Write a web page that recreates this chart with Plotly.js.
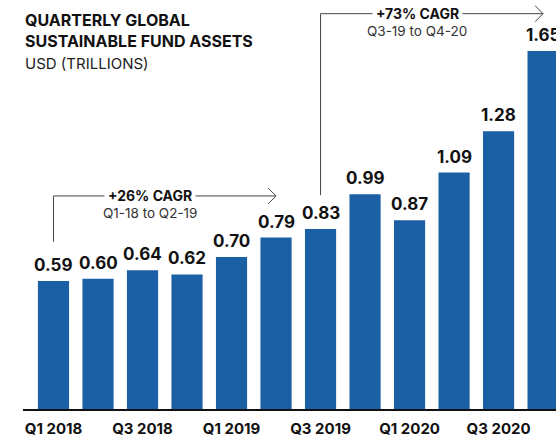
<!DOCTYPE html>
<html>
<head>
<meta charset="utf-8">
<script src="https://cdn.plot.ly/plotly-3.0.1.min.js"></script>
<style>
  html, body { margin: 0; padding: 0; background: #fff; }
  #chart { width: 556px; height: 439px; }
</style>
</head>
<body>
<div id="chart"></div>
<script>
// ---- data ----
const quarters = ["Q1 2018","Q2 2018","Q3 2018","Q4 2018","Q1 2019","Q2 2019",
                  "Q3 2019","Q4 2019","Q1 2020","Q2 2020","Q3 2020","Q4 2020"];
const assets = [0.59, 0.60, 0.64, 0.62, 0.70, 0.79, 0.83, 0.99, 0.87, 1.09, 1.28, 1.65];
const tickLabels = ["Q1 2018","Q3 2018","Q1 2019","Q3 2019","Q1 2020","Q3 2020"];
const tickIdx = [0, 2, 4, 6, 8, 10];
const cagr1 = {label: "+26% CAGR", sub: "Q1-18 to Q2-19", from: 0, to: 5};
const cagr2 = {label: "+73% CAGR", sub: "Q3-19 to Q4-20", from: 6, to: 11};

const FONT = "Inter, 'Open Sans', sans-serif";
const BLUE = "#1b5fa5";
const idx = quarters.map((q, i) => i);

const trace = {
  type: "bar",
  x: idx,
  y: assets,
  width: 0.70,
  marker: {color: BLUE},
  hoverinfo: "skip",
  cliponaxis: false
};

const annotations = assets.map((v, i) => ({
  x: i, y: v, xref: "x", yref: "y",
  text: "<b>" + v.toFixed(2) + "</b>",
  showarrow: false, yanchor: "bottom", yshift: 4,
  font: {family: FONT, size: 17, color: "#111"}
}));

const shapes = [];
function bracket(c, yLine, yStart) {
  shapes.push({type: "line", xref: "x", yref: "y", x0: c.from, x1: c.from, y0: yStart, y1: yLine,
               line: {color: "#444", width: 1}});
  shapes.push({type: "line", xref: "x", yref: "y", x0: c.from, x1: c.to, y0: yLine, y1: yLine,
               line: {color: "#444", width: 1}});
  shapes.push({type: "path", xref: "x", yref: "y", xsizemode: "pixel", ysizemode: "pixel",
               xanchor: c.to, yanchor: yLine, path: "M-8,8 L0,0 L-8,-8",
               line: {color: "#444", width: 1}});
  const mid = c.from + (c.to - c.from) * 0.435;
  annotations.push({x: mid, y: yLine, xref: "x", yref: "y", text: "<b>" + c.label + "</b>",
    showarrow: false, bgcolor: "#fff", borderpad: 3, yanchor: "middle",
    font: {family: FONT, size: 14, color: "#111"}});
  annotations.push({x: mid, y: yLine, xref: "x", yref: "y", text: c.sub, yshift: -17,
    showarrow: false, yanchor: "middle",
    font: {family: FONT, size: 13.5, color: "#333"}});
}
bracket(cagr1, 0.982, 0.771);
bracket(cagr2, 1.822, 0.986);

annotations.push({xref: "paper", yref: "paper", x: -0.0, y: 1, xanchor: "left", yanchor: "top",
  yshift: -8, align: "left", showarrow: false,
  text: "<b>QUARTERLY GLOBAL<br>SUSTAINABLE FUND ASSETS</b>",
  font: {family: FONT, size: 16, color: "#111"}});
annotations.push({xref: "paper", yref: "paper", x: 0, y: 1, xanchor: "left", yanchor: "top",
  yshift: -52, showarrow: false, text: "USD (TRILLIONS)",
  font: {family: FONT, size: 15, color: "#222"}});

const layout = {
  width: 556, height: 439,
  margin: {l: 23, r: 0, t: 0, b: 30},
  paper_bgcolor: "#fff", plot_bgcolor: "#fff",
  showlegend: false,
  xaxis: {
    range: [-0.685, 11.29],
    tickvals: tickIdx, ticktext: tickLabels,
    showgrid: false, zeroline: false,
    showline: true, linecolor: "#111", linewidth: 2,
    ticks: "outside", ticklen: 5, tickcolor: "rgba(0,0,0,0)",
    tickfont: {family: FONT, size: 15, color: "#111", weight: "bold"}
  },
  yaxis: {
    range: [0, 1.885], visible: false, fixedrange: true
  },
  shapes: shapes,
  annotations: annotations
};

Plotly.newPlot("chart", [trace], layout, {displayModeBar: false, staticPlot: true});
</script>
</body>
</html>
